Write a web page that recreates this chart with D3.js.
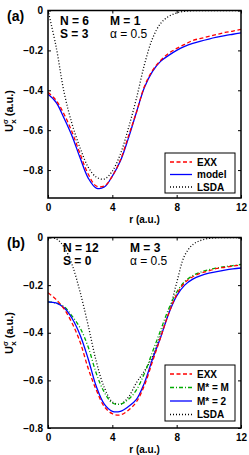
<!DOCTYPE html>
<html>
<head>
<meta charset="utf-8">
<script src="https://cdn.jsdelivr.net/npm/d3@7"></script>
<style>
  body { margin: 0; background: #fff; }
  svg { display: block; }
  text { font-family: "Liberation Sans", Arial, sans-serif; }
</style>
</head>
<body>
<svg width="249" height="455"></svg>
<script>
const R = d3.range(0, 12.01, 0.5);

// panel (a): N = 6, M = 1
const EXX_A   = [-0.41,-0.45,-0.52,-0.61,-0.72,-0.82,-0.88,-0.88,-0.83,-0.75,-0.63,-0.51,-0.38,-0.30,-0.25,-0.215,-0.19,-0.17,-0.15,-0.14,-0.13,-0.12,-0.11,-0.103,-0.095];
const MODEL_A = [-0.42,-0.46,-0.54,-0.63,-0.74,-0.84,-0.89,-0.885,-0.83,-0.755,-0.64,-0.51,-0.385,-0.305,-0.255,-0.225,-0.20,-0.18,-0.165,-0.153,-0.143,-0.134,-0.126,-0.119,-0.112];
const LSDA_A  = [0,-0.18,-0.41,-0.57,-0.69,-0.785,-0.835,-0.845,-0.805,-0.72,-0.59,-0.44,-0.27,-0.14,-0.065,-0.03,-0.012,-0.004,-0.001,0,0,0,0,0,0];

// panel (b): N = 12, M = 3
const EXX_B   = [-0.232,-0.26,-0.30,-0.36,-0.44,-0.55,-0.64,-0.71,-0.74,-0.745,-0.725,-0.69,-0.62,-0.52,-0.42,-0.32,-0.24,-0.19,-0.165,-0.15,-0.14,-0.13,-0.125,-0.12,-0.115];
const MSTAR_B = [-0.27,-0.275,-0.29,-0.33,-0.38,-0.46,-0.57,-0.65,-0.695,-0.70,-0.68,-0.64,-0.57,-0.48,-0.39,-0.30,-0.23,-0.185,-0.16,-0.145,-0.135,-0.128,-0.122,-0.118,-0.113];
const M2_B    = [-0.27,-0.275,-0.295,-0.34,-0.41,-0.51,-0.625,-0.70,-0.73,-0.73,-0.71,-0.68,-0.61,-0.51,-0.42,-0.32,-0.245,-0.20,-0.175,-0.16,-0.15,-0.143,-0.137,-0.132,-0.128];
const LSDA_B  = [0,-0.005,-0.04,-0.115,-0.23,-0.37,-0.52,-0.63,-0.69,-0.70,-0.67,-0.61,-0.56,-0.50,-0.41,-0.32,-0.19,-0.075,-0.03,-0.012,-0.004,-0.001,0,0,0];

const X_TICKS = [0, 4, 8, 12];
const Y_TICKS = [0, -0.2, -0.4, -0.6, -0.8];

const svg = d3.select('svg');

const styles = {
  exx:   { color: '#ff0000', dash: '4,2.5' },
  model: { color: '#0000ff', dash: null },
  mstar: { color: '#00aa00', dash: '4,2,1,2' },
  lsda:  { color: '#000000', dash: '1,2' }
};

function panel(opt) {
  const x = d3.scaleLinear().domain([0, 12]).range([48, 241]);
  const y = d3.scaleLinear().domain(opt.ydom).range(opt.yrange);
  const g = svg.append('g');
  const id = 'clip' + opt.key;

  g.append('clipPath').attr('id', id)
    .append('rect')
    .attr('x', x(0)).attr('y', y(opt.ydom[1]))
    .attr('width', x(12) - x(0)).attr('height', y(opt.ydom[0]) - y(opt.ydom[1]));

  const line = d3.line()
    .x((d, i) => x(R[i]))
    .y(d => y(d))
    .curve(d3.curveCatmullRom);

  opt.series.forEach(s => {
    const st = styles[s.key];
    g.append('path')
      .attr('clip-path', `url(#${id})`)
      .attr('d', line(s.values))
      .attr('fill', 'none')
      .attr('stroke', st.color)
      .attr('stroke-width', 1.3)
      .attr('stroke-dasharray', st.dash);
  });

  // axes: ticks inward on all sides
  const x0 = x(0), x1 = x(12), yTop = y(opt.ydom[1]), yBot = y(opt.ydom[0]);
  g.append('g').attr('transform', `translate(0,${yBot})`)
    .call(d3.axisBottom(x).tickValues(X_TICKS).tickSize(-3).tickPadding(6).tickFormat(d3.format('d')))
    .call(a => a.select('.domain').remove());
  g.append('g').attr('transform', `translate(0,${yTop})`)
    .call(d3.axisTop(x).tickValues(X_TICKS).tickSize(-3).tickFormat(''))
    .call(a => a.select('.domain').remove());
  g.append('g').attr('transform', `translate(${x0},0)`)
    .call(d3.axisLeft(y).tickValues(Y_TICKS).tickSize(-3).tickPadding(5).tickFormat(d => d === 0 ? '0' : d3.format('.1f')(d)))
    .call(a => a.select('.domain').remove());
  g.append('g').attr('transform', `translate(${x1},0)`)
    .call(d3.axisRight(y).tickValues(Y_TICKS).tickSize(-3).tickFormat(''))
    .call(a => a.select('.domain').remove());

  g.selectAll('.tick text')
    .attr('font-family', '"Liberation Sans", Arial, sans-serif')
    .attr('font-size', 10).attr('font-weight', 'bold').attr('fill', '#000');
  g.selectAll('.tick line').attr('stroke', '#000');

  g.append('rect')
    .attr('x', x0).attr('y', yTop).attr('width', x1 - x0).attr('height', yBot - yTop)
    .attr('fill', 'none').attr('stroke', '#000').attr('stroke-width', 1.5);

  // labels
  g.append('text').attr('x', 7).attr('y', yTop + 10)
    .attr('font-size', 14).attr('font-weight', 'bold').text(opt.tag);

  g.append('text').attr('x', (x0 + x1) / 2).attr('y', yBot + 25)
    .attr('text-anchor', 'middle').attr('font-size', 10).attr('font-weight', 'bold')
    .text('r (a.u.)');

  const yl = g.append('text')
    .attr('transform', `translate(13,${opt.ylabelY}) rotate(-90)`)
    .attr('text-anchor', 'middle').attr('font-size', 11).attr('font-weight', 'bold');
  yl.append('tspan').text('U');
  yl.append('tspan').attr('font-size', 7).attr('dy', -5).text('σ');
  yl.append('tspan').attr('font-size', 8).attr('dy', 8).attr('dx', -4.5).text('x');
  yl.append('tspan').attr('dy', -3).text(' (a.u.)');

  // parameters
  const fs = 12;
  g.append('text').attr('x', opt.nX).attr('y', yTop + opt.infoY)
    .attr('font-size', fs).attr('font-weight', 'bold').text(opt.N);
  g.append('text').attr('x', opt.nX).attr('y', yTop + opt.infoY + 13)
    .attr('font-size', fs).attr('font-weight', 'bold').text(opt.S);
  g.append('text').attr('x', opt.mX).attr('y', yTop + opt.infoY)
    .attr('font-size', fs).attr('font-weight', 'bold').text(opt.M);
  g.append('text').attr('x', opt.mX).attr('y', yTop + opt.infoY + 13)
    .attr('font-family', '"Liberation Serif", "Times New Roman", serif')
    .attr('font-size', fs).text('α = 0.5');

  // legend
  const lg = g.append('g');
  lg.append('rect')
    .attr('x', 165).attr('y', opt.legY).attr('width', 70).attr('height', opt.legH)
    .attr('fill', '#fff').attr('stroke', '#000').attr('stroke-width', 1);
  opt.legend.forEach((e, i) => {
    const st = styles[e.key];
    const yy = opt.legY + opt.legY0 + i * opt.legStep;
    lg.append('line').attr('x1', 170).attr('x2', 192).attr('y1', yy).attr('y2', yy)
      .attr('stroke', st.color).attr('stroke-width', 1.3).attr('stroke-dasharray', st.dash);
    lg.append('text').attr('x', 197).attr('y', yy + 3.5)
      .attr('font-size', 10).attr('font-weight', 'bold').text(e.label);
  });
}

panel({
  key: 'a', tag: '(a)', ydom: [-0.94, 0], yrange: [198, 10.5], ylabelY: 111,
  N: 'N = 6', S: 'S = 3', M: 'M = 1', nX: 60, mX: 110, infoY: 14,
  series: [
    { key: 'lsda', values: LSDA_A },
    { key: 'model', values: MODEL_A },
    { key: 'exx', values: EXX_A }
  ],
  legY: 153, legH: 40, legY0: 9, legStep: 12.5,
  legend: [
    { key: 'exx', label: 'EXX' },
    { key: 'model', label: 'model' },
    { key: 'lsda', label: 'LSDA' }
  ]
});

panel({
  key: 'b', tag: '(b)', ydom: [-0.8, 0], yrange: [428, 237.5], ylabelY: 333,
  N: 'N = 12', S: 'S = 0', M: 'M = 3', nX: 63, mX: 130, infoY: 14,
  series: [
    { key: 'lsda', values: LSDA_B },
    { key: 'mstar', values: MSTAR_B },
    { key: 'model', values: M2_B },
    { key: 'exx', values: EXX_B }
  ],
  legY: 365, legH: 56, legY0: 9, legStep: 13.5,
  legend: [
    { key: 'exx', label: 'EXX' },
    { key: 'mstar', label: 'M* = M' },
    { key: 'model', label: 'M* = 2' },
    { key: 'lsda', label: 'LSDA' }
  ]
});
</script>
</body>
</html>
